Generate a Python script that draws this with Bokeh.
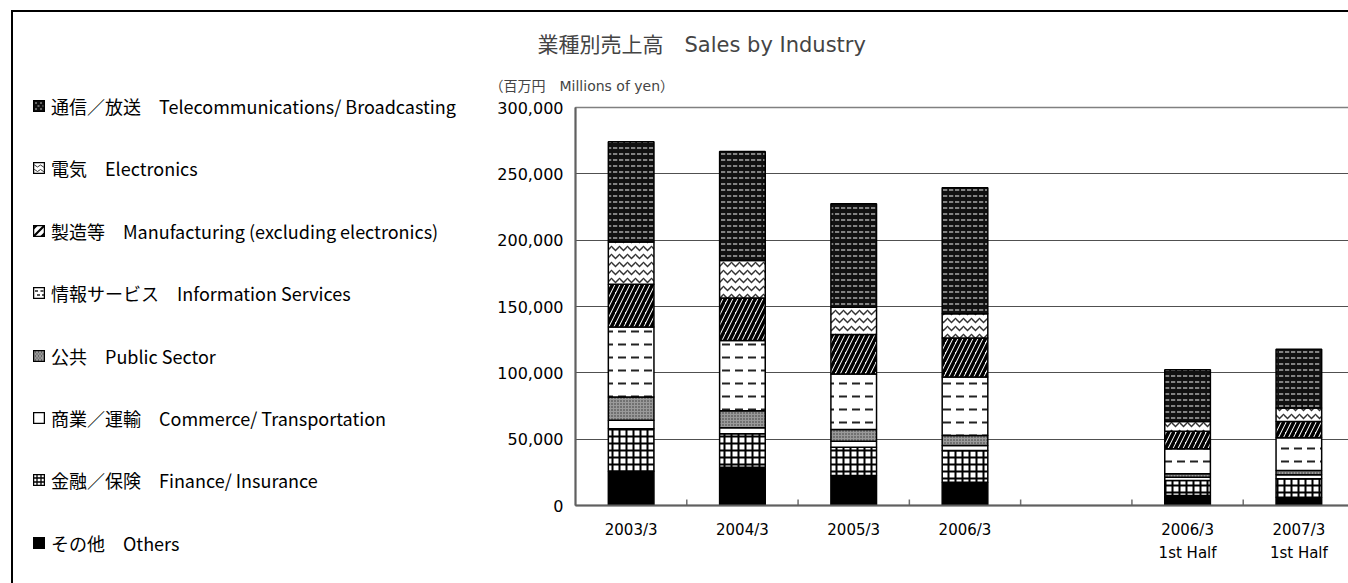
import math
from bokeh.plotting import figure
from bokeh.models import (ColumnDataSource, FactorRange, Range1d, LinearAxis, CategoricalAxis,
                          SingleIntervalTicker, NumeralTickFormatter, Title, Div)
from bokeh.transform import dodge
from bokeh.layouts import row
from bokeh.embed import file_html
from bokeh.resources import INLINE

# ---------------- data ----------------
categories = ["2003/3", "2004/3", "2005/3", "2006/3", "2006/3\n1st Half", "2007/3\n1st Half"]
slots = ["2003/3", "2004/3", "2005/3", "2006/3", " ", "2006/3\n1st Half", "2007/3\n1st Half"]

others = [25900, 28900, 22600, 17600, 7500, 6300]
finance = [32000, 25200, 21300, 23900, 11300, 13900]
commerce = [6300, 4500, 4500, 3800, 2500, 3000]
public = [17600, 12900, 8800, 7500, 2600, 3200]
info = [52800, 52800, 42000, 44000, 18900, 24700]
manufacturing = [32200, 32200, 29700, 29400, 13100, 12300]
electronics = [31900, 28100, 20600, 18400, 7500, 10000]
telecom = [75400, 82200, 78000, 95000, 39000, 44300]

series_keys = ["others", "finance", "commerce", "public", "info", "manufacturing", "electronics", "telecom"]
legend_labels = {
    "telecom": "通信／放送　Telecommunications/ Broadcasting",
    "electronics": "電気　Electronics",
    "manufacturing": "製造等　Manufacturing (excluding electronics)",
    "info": "情報サービス　Information Services",
    "public": "公共　Public Sector",
    "commerce": "商業／運輸　Commerce/ Transportation",
    "finance": "金融／保険　Finance/ Insurance",
    "others": "その他　Others",
}
title_text = "業種別売上高　Sales by Industry"
unit_text = "（百万円　Millions of yen）"
y_max = 300000
y_step = 50000

# ---------------- styles ----------------
styles = {
    "others":        dict(fill="black",   pat=" ",                   hc="black",   hs=6,  hw=1),
    "finance":       dict(fill="white",   pat="cross",               hc="black",   hs=7,  hw=2),
    "commerce":      dict(fill="white",   pat=" ",                   hc="black",   hs=6,  hw=1),
    "public":        dict(fill="#9a9a9a", pat="dot",                 hc="#333333", hs=3,  hw=1),
    "info":          dict(fill="white",   pat="horizontal_dash",     hc="#222222", hs=13, hw=2),
    "manufacturing": dict(fill="white",   pat="right_diagonal_line", hc="black",   hs=10, hw=3.5),
    "electronics":   dict(fill="white",   pat="horizontal_wave",     hc="#333333", hs=8,  hw=1.5),
    "telecom":       dict(fill="#111111", pat="horizontal_dash",     hc="#a8a8a8", hs=6,  hw=1.5),
}

# small legend icons (12x12) imitating the hatch fills
icon_svg = {
    "telecom": '<rect width="12" height="12" fill="#111"/>'
               '<path d="M2,3h2M7,3h2M4.5,6h2M9.5,6h1M2,9h2M7,9h2" stroke="#bbb" stroke-width="1.2"/>',
    "electronics": '<rect width="12" height="12" fill="white"/>'
                   '<path d="M0,4 q1.5,-2 3,0 t3,0 t3,0 t3,0 M0,8.5 q1.5,-2 3,0 t3,0 t3,0 t3,0" '
                   'fill="none" stroke="#333" stroke-width="1"/>',
    "manufacturing": '<rect width="12" height="12" fill="white"/>'
                     '<path d="M-2,6 L6,-2 M-2,14 L14,-2 M6,14 L14,6" stroke="black" stroke-width="2.2"/>',
    "info": '<rect width="12" height="12" fill="white"/>'
            '<path d="M2,4h3M7.5,4h3M4,8h3M9,8h2" stroke="#222" stroke-width="1.3"/>',
    "public": '<rect width="12" height="12" fill="#9a9a9a"/>'
              '<path d="M2,2h1M5,2h1M8,2h1M3.5,4h1M6.5,4h1M9.5,4h1M2,6h1M5,6h1M8,6h1M3.5,8h1M6.5,8h1M2,10h1M5,10h1M8,10h1" '
              'stroke="#333" stroke-width="1"/>',
    "commerce": '<rect width="12" height="12" fill="white"/>',
    "finance": '<rect width="12" height="12" fill="white"/>'
                '<path d="M4,0v12M8,0v12M0,4h12M0,8h12" stroke="black" stroke-width="1.3"/>',
    "others": '<rect width="12" height="12" fill="black"/>',
}

FONT_MIX = "DejaVu Sans, Noto Sans CJK JP"
FONT_NUM = "DejaVu Sans"

H = 568
LEG_W = 452
CH_W = 883

# ---------------- chart ----------------
src = ColumnDataSource(dict(cat=categories, others=others, finance=finance, commerce=commerce,
                            public=public, info=info, manufacturing=manufacturing,
                            electronics=electronics, telecom=telecom))

p = figure(width=CH_W, height=H, x_range=FactorRange(factors=slots), y_range=Range1d(0, y_max),
           output_backend="svg", toolbar_location=None, x_axis_location=None, y_axis_location=None,
           min_border_left=100, min_border_right=4, min_border_top=95, min_border_bottom=75)

bars = p.vbar_stack(series_keys, x="cat", width=0.41, source=src,
                    fill_color=[styles[k]["fill"] for k in series_keys],
                    hatch_pattern=[styles[k]["pat"] for k in series_keys],
                    hatch_color=[styles[k]["hc"] for k in series_keys],
                    hatch_scale=[styles[k]["hs"] for k in series_keys],
                    hatch_weight=[styles[k]["hw"] for k in series_keys],
                    line_color="black", line_width=1.5)

# small tick marks on the category boundaries
bsrc = ColumnDataSource(dict(b=slots[:-1], y0=[0] * (len(slots) - 1)))
p.scatter(x=dodge("b", 0.5, range=p.x_range), y="y0", source=bsrc, marker="dash",
          angle=math.pi / 2, size=12, line_color="#707070", line_width=1.5)

# y axis
yax = LinearAxis(ticker=SingleIntervalTicker(interval=y_step),
                 formatter=NumeralTickFormatter(format="0,0"))
yax.major_tick_in = 0
yax.major_tick_out = 0
yax.minor_tick_in = 0
yax.minor_tick_out = 0
yax.major_label_standoff = 12
yax.major_label_text_font = FONT_NUM
yax.major_label_text_font_size = "16px"
yax.major_label_text_color = "black"
yax.axis_line_color = "#606060"
yax.axis_line_width = 2
p.add_layout(yax, "left")

xax = CategoricalAxis()
xax.major_tick_in = 0
xax.major_tick_out = 0
xax.axis_line_color = "#606060"
xax.axis_line_width = 2
xax.major_label_standoff = 15
xax.major_label_text_font = FONT_NUM
xax.major_label_text_font_size = "15px"
xax.major_label_text_color = "black"
xax.major_label_text_line_height = 1.3
p.add_layout(xax, "below")

p.xgrid.grid_line_color = None
p.ygrid.ticker = SingleIntervalTicker(interval=y_step)
p.ygrid.grid_line_color = "#505050"
p.ygrid.grid_line_width = 1
p.outline_line_color = "#808080"
p.outline_line_width = 1.5

p.add_layout(Title(text=unit_text, align="left", offset=-86, text_font=FONT_MIX,
                   text_font_size="14px", text_font_style="normal", standoff=28), "above")
p.add_layout(Title(text=title_text, align="left", offset=-38, text_font=FONT_MIX,
                   text_font_size="21px", text_font_style="normal", standoff=9), "above")

# ---------------- legend panel (HTML, left of the chart) ----------------
pitch = 62.4
first_center = 89
parts = ['<div style="position:relative;width:%dpx;height:%dpx;">' % (LEG_W, H)]
for i, k in enumerate(reversed(series_keys)):
    top = first_center + i * pitch - 13
    parts.append(
        '<div style="position:absolute;left:15px;top:%.1fpx;height:26px;display:flex;'
        'align-items:center;white-space:nowrap;font-family:\'Noto Sans CJK JP\';'
        'font-size:18px;color:black;line-height:26px;">'
        '<svg width="12" height="12" viewBox="0 0 12 12" style="margin-right:6px;flex:none;">'
        '%s<rect x="0.6" y="0.6" width="10.8" height="10.8" fill="none" stroke="black" stroke-width="1.3"/>'
        '</svg><span>%s</span></div>' % (top, icon_svg[k], legend_labels[k]))
parts.append('</div>')
leg = Div(text="".join(parts), width=LEG_W, height=H)

layout = row(leg, p, margin=(10, 0, 0, 11),
             styles={"border-top": "2px solid black", "border-left": "2px solid black"})

open("out.html", "w").write(file_html(layout, INLINE))
